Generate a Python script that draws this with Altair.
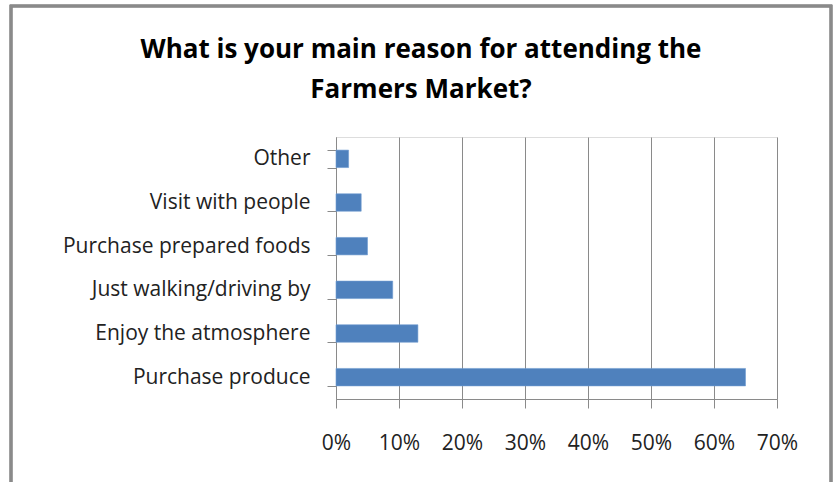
import altair as alt
import pandas as pd

categories = ["Other", "Visit with people", "Purchase prepared  foods",
              "Just walking/driving by", "Enjoy the atmosphere", "Purchase produce"]
values = [0.02, 0.04, 0.05, 0.09, 0.13, 0.65]
x_ticks = [0, 0.1, 0.2, 0.3, 0.4, 0.5, 0.6, 0.7]

df = pd.DataFrame({"reason": categories, "share": values})

FONT = "Open Sans"
GRAY = "#8a8a8a"

bars = alt.Chart(df).mark_bar(color="#4F81BD", stroke="#6f9bd0", strokeWidth=0.6).encode(
    x=alt.X("share:Q",
            scale=alt.Scale(domain=[0, 0.7], nice=False),
            axis=alt.Axis(format=".0%", values=x_ticks, title=None,
                          grid=True, gridColor=GRAY, gridWidth=1,
                          domainColor=GRAY, tickColor=GRAY,
                          tickSize=9, labelPadding=24, labelFontSize=21,
                          labelFlush=False, labelOverlap=False,
                          labelFont=FONT, labelColor="#222222")),
    y=alt.Y("reason:N", sort=categories,
            scale=alt.Scale(paddingInner=0.6, paddingOuter=0.3),
            axis=alt.Axis(title=None, domainColor=GRAY, tickColor=GRAY,
                          tickSize=9, labelPadding=17, labelFontSize=21,
                          labelLimit=0,
                          labelFont=FONT, labelColor="#222222",
                          tickBand="extent")),
)

border = alt.Chart(df).mark_rect(fill=None, stroke=GRAY, strokeWidth=2.5, clip=False).encode(
    x=alt.value(-325), x2=alt.value(495), y=alt.value(-131), y2=alt.value(360)
)

chart = alt.layer(border, bars).properties(
    width=441,
    height=262,
    title=alt.TitleParams(
        text=["What is your main reason for attending the", "Farmers Market?"],
        font=FONT, fontSize=26, fontWeight="bold", color="#000000",
        lineHeight=40, offset=-98, anchor="middle", frame="bounds",
    ),
    padding={"left": 336, "top": 137, "right": 59, "bottom": 83},
    autosize=alt.AutoSizeParams(type="none"),
).configure_view(stroke=None).configure(background="white")

chart.save("out.html", embed_options={"renderer": "svg", "actions": False})
